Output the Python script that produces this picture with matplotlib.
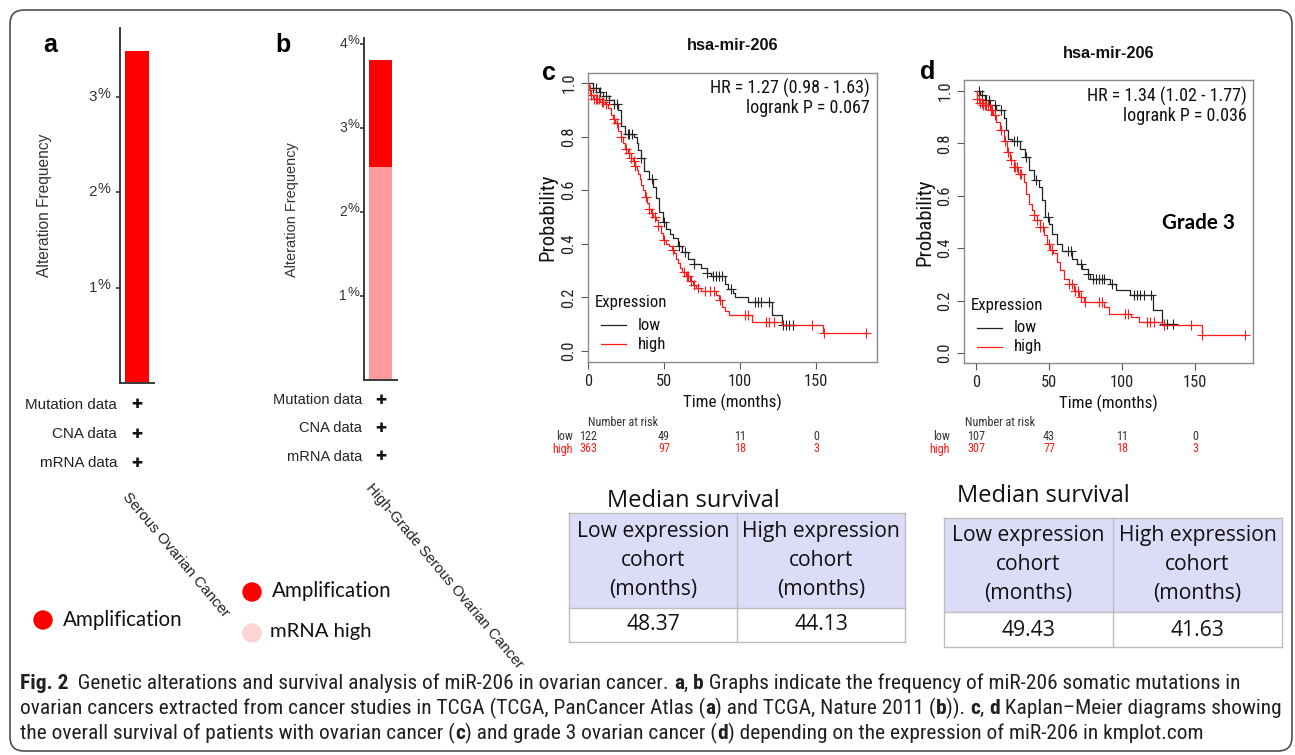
import numpy as np
import matplotlib
matplotlib.use('Agg')
import matplotlib.pyplot as plt
from matplotlib import font_manager
from matplotlib.font_manager import FontProperties
from matplotlib.patches import FancyBboxPatch, Rectangle, Circle
from matplotlib.lines import Line2D
from matplotlib.transforms import IdentityTransform, blended_transform_factory

# ---------------- data ----------------
cat_a = ['Serous Ovarian Cancer']
amp_a = [3.48]
cat_b = ['High-Grade Serous Ovarian Cancer']
mrna_b = [2.54]
amp_b = [1.27]
yticks_a = [1, 2, 3]
yticks_b = [1, 2, 3, 4]
profile_rows = ['Mutation data', 'CNA data', 'mRNA data']
legend_a = ['Amplification']
legend_b = ['Amplification', 'mRNA high']

km_title = 'hsa-mir-206'
km_xticks = [0, 50, 100, 150]
km_yticks = [0.0, 0.2, 0.4, 0.6, 0.8, 1.0]
km_legend = ['low', 'high']

c_low_t = [0, 3, 7, 10, 14, 17, 20, 22, 24, 30, 32, 33, 35, 37, 40, 43, 45, 47, 49, 51,
           54, 56, 59, 62, 66, 70, 74, 78, 81, 90, 92, 95, 96.5, 105, 121, 127.5, 137]
c_low_s = [1.0, 0.98, 0.965, 0.95, 0.935, 0.92, 0.90, 0.84, 0.81, 0.80, 0.775, 0.75, 0.72,
           0.67, 0.64, 0.61, 0.57, 0.52, 0.48, 0.455, 0.435, 0.42, 0.39, 0.37, 0.345, 0.325,
           0.31, 0.29, 0.278, 0.25, 0.232, 0.215, 0.203, 0.184, 0.134, 0.097, 0.097]
c_low_cens = [3, 5, 8, 12, 14, 17, 19, 26, 27, 29, 35, 42, 50, 60, 64, 70, 78, 82, 84, 86,
              88, 94, 110, 112, 114, 119, 128, 130, 132, 135]
c_high_t = [0, 0.5, 1.5, 3, 8, 11, 13, 15, 16.5, 18, 20, 21.5, 23, 24.5, 26, 28, 29.5, 31,
            32, 33, 34, 35, 36, 37.5, 38.5, 40, 41.5, 43, 44.5, 46, 48, 49.5, 51, 53, 55,
            56.5, 58, 59, 60.5, 62, 64.5, 67, 69, 71, 74, 84, 86, 88, 90, 93, 107.5, 127.3,
            154.5, 183]
c_high_s = [1.0, 0.975, 0.955, 0.94, 0.93, 0.92, 0.905, 0.88, 0.865, 0.85, 0.82, 0.8, 0.776,
            0.755, 0.738, 0.72, 0.707, 0.69, 0.676, 0.66, 0.64, 0.62, 0.60, 0.575, 0.552,
            0.53, 0.515, 0.5, 0.487, 0.465, 0.44, 0.415, 0.40, 0.39, 0.375, 0.365, 0.345,
            0.327, 0.31, 0.296, 0.278, 0.26, 0.247, 0.235, 0.222, 0.21, 0.19, 0.166, 0.15,
            0.134, 0.11, 0.097, 0.066, 0.066]
c_high_cens = [1, 2, 4, 5, 6, 7, 9, 10, 12, 17, 19, 22, 25, 27, 28, 30, 31, 38, 40, 42, 44,
               46, 50, 56, 63, 65, 66, 68, 70, 72, 77, 80, 83, 87, 103, 105, 117, 119, 122,
               147, 155, 183]

d_low_t = [0, 2.8, 6, 9.6, 14, 19, 20.6, 22, 24.5, 30, 33.7, 36, 39.4, 43, 45, 47.5, 49.8,
           52, 55.5, 59, 66, 69, 72.7, 77, 78.4, 92, 95.6, 105.5, 121, 127.7, 137]
d_low_s = [1.0, 0.983, 0.964, 0.945, 0.926, 0.898, 0.85, 0.818, 0.81, 0.78, 0.748, 0.697,
           0.659, 0.634, 0.583, 0.519, 0.494, 0.455, 0.417, 0.389, 0.36, 0.341, 0.322, 0.303,
           0.284, 0.262, 0.242, 0.22, 0.165, 0.109, 0.109]
d_low_cens = [2, 4, 7, 9, 13, 17, 26, 28, 34, 41, 49, 63, 65, 72, 77, 80, 82, 84, 86, 88,
              93, 108, 110, 112, 115, 120, 129, 131, 135]
d_high_t = [0, 1, 2.5, 5, 9.6, 12, 14, 16.5, 19, 21, 23.4, 25.7, 29, 32.6, 34.4, 36, 38.3,
            40, 41.7, 44, 46.8, 48.6, 51, 53, 55.5, 57.8, 60, 63.5, 67, 70.4, 73.9, 87.6, 91,
            106, 111.7, 127.7, 154.8, 184.4]
d_high_s = [1.0, 0.97, 0.955, 0.945, 0.926, 0.907, 0.88, 0.85, 0.81, 0.767, 0.735, 0.71,
            0.684, 0.653, 0.608, 0.57, 0.545, 0.525, 0.506, 0.481, 0.449, 0.417, 0.392,
            0.382, 0.347, 0.316, 0.284, 0.265, 0.237, 0.214, 0.195, 0.176, 0.15, 0.137,
            0.118, 0.106, 0.07, 0.07]
d_high_cens = [1, 2, 3, 4, 5, 6, 7, 8, 10, 11, 13, 17, 20, 22, 24, 26, 27, 28, 30, 31, 40,
               42, 44, 46, 50, 52, 64, 66, 68, 70, 72, 75, 84, 86, 102, 104, 117, 119, 122,
               129, 147, 155, 184]

risk_times = [0, 50, 100, 150]
c_risk_low = [122, 49, 11, 0]
c_risk_high = [363, 97, 18, 3]
d_risk_low = [107, 43, 11, 0]
d_risk_high = [307, 77, 18, 3]
c_stats = ['HR = 1.27 (0.98 - 1.63)', 'logrank P = 0.067']
d_stats = ['HR = 1.34 (1.02 - 1.77)', 'logrank P = 0.036']

table_title = 'Median survival'
table_cols = [['Low expression', 'cohort', '(months)'],
              ['High expression', 'cohort', '(months)']]
c_median = [48.37, 44.13]
d_median = [49.43, 41.63]

caption = [
    [('Fig. 2', 'bold'), ('  Genetic alterations and survival analysis of miR-206 in ovarian cancer. ', 'normal'),
     ('a', 'bold'), (', ', 'normal'), ('b', 'bold'),
     (' Graphs indicate the frequency of miR-206 somatic mutations in', 'normal')],
    [('ovarian cancers extracted from cancer studies in TCGA (TCGA, PanCancer Atlas (', 'normal'),
     ('a', 'bold'), (') and TCGA, Nature 2011 (', 'normal'), ('b', 'bold'), (')). ', 'normal'),
     ('c', 'bold'), (', ', 'normal'), ('d', 'bold'), (' Kaplan\u2013Meier diagrams showing', 'normal')],
    [('the overall survival of patients with ovarian cancer (', 'normal'), ('c', 'bold'),
     (') and grade 3 ovarian cancer (', 'normal'), ('d', 'bold'),
     (') depending on the expression of miR-206 in kmplot.com', 'normal')],
]

# ---------------- setup ----------------
W, H = 1295, 755
fig = plt.figure(figsize=(W / 100, H / 100), dpi=100)
fig.patch.set_facecolor('white')
R = fig.canvas.get_renderer()
PX = IdentityTransform()

avail = {f.name for f in font_manager.fontManager.ttflist}


def pick(*names):
    for n in names:
        if n in avail:
            return n
    return 'DejaVu Sans'


ARIAL = pick('Liberation Sans', 'Arimo', 'DejaVu Sans')
NARROW = pick('Liberation Sans Narrow', 'Roboto Condensed', 'Open Sans Condensed', 'Roboto')
OPEN = pick('Open Sans', 'Noto Sans')
LATO = pick('Lato', 'Open Sans')
DV = 'DejaVu Sans'
KMF = NARROW
plt.rcParams['font.family'] = [DV]


def tw(s, size, family, weight='normal'):
    fp = FontProperties(family=family, size=size, weight=weight)
    w1 = R.get_text_width_height_descent('|' + s + '|', fp, ismath=False)[0]
    w0 = R.get_text_width_height_descent('||', fp, ismath=False)[0]
    return w1 - w0


def fit(s, target, family, weight='normal'):
    return 10.0 * target / tw(s, 10.0, family, weight)


def T(x, y, s, **kw):
    return fig.text(x / W, 1 - y / H, s, **kw)


def AX(x0, y0, x1, y1):
    return fig.add_axes([x0 / W, 1 - y1 / H, (x1 - x0) / W, (y1 - y0) / H])


def hline(x0, x1, y, **kw):
    fig.add_artist(Line2D([x0, x1], [H - y, H - y], transform=PX, **kw))


def vline(x, y0, y1, **kw):
    fig.add_artist(Line2D([x, x], [H - y0, H - y1], transform=PX, **kw))


# outer rounded frame
fig.add_artist(FancyBboxPatch((10, H - 751), 1282, 741, boxstyle='round,pad=0,rounding_size=14',
                              transform=PX, fill=False, ec='#4d4d4d', lw=1.2))

# ---------------- bar panels a, b ----------------
RED = '#ff0000'
PINK = '#ff9b9b'
LPINK = '#ffd4d4'
SPC = '#3a3a3a'


def bar_panel(box, bar_px, ymax, yticks, stacks, colors, fs, dig_off):
    ax = AX(*box)
    x = np.arange(1)
    bottom = np.zeros(1)
    for vals, col in zip(stacks, colors):
        ax.bar(x, vals, bottom=bottom, width=1.0, color=col, edgecolor='none')
        bottom = bottom + np.array(vals)
    pad = (box[2] - box[0] - bar_px) / 2 / bar_px
    ax.set_xlim(-0.5 - pad, 0.5 + pad)
    ax.set_ylim(0, ymax)
    for s in ['top', 'right']:
        ax.spines[s].set_visible(False)
    for s in ['left', 'bottom']:
        ax.spines[s].set_color(SPC)
        ax.spines[s].set_linewidth(1.4)
    ax.set_xticks([])
    ax.set_yticks(yticks)
    ax.set_yticklabels([])
    ax.tick_params(axis='y', length=3, width=1.2, color=SPC, direction='out')
    ax.patch.set_alpha(0)
    for v in yticks:
        ax.annotate(str(v), xy=(0, v), xycoords=('axes fraction', 'data'), xytext=(dig_off, 0),
                    textcoords='offset pixels', ha='right', va='center', fontsize=fs,
                    family=ARIAL, color='#333333')
        ax.annotate('%', xy=(0, v), xycoords=('axes fraction', 'data'), xytext=(dig_off, 3),
                    textcoords='offset pixels', ha='left', va='center', fontsize=fs * 0.95,
                    family=ARIAL, color='#333333')
    return ax


axa = bar_panel((120, 27.7, 154, 383.3), 24, 3.72, yticks_a, [amp_a], [RED], 11, -23)
axb = bar_panel((364, 38, 397, 380), 23, 4.07, yticks_b, [mrna_b, amp_b], [PINK, RED], 10, -17)

T(45, 205, 'Alteration Frequency', rotation=90, ha='center', va='center', family=ARIAL,
  fontsize=fit('Alteration Frequency', 144, ARIAL), color='#333333')
T(292, 210, 'Alteration Frequency', rotation=90, ha='center', va='center', family=ARIAL,
  fontsize=fit('Alteration Frequency', 135, ARIAL), color='#333333')

T(50, 45, 'a', ha='center', va='center', family=ARIAL, fontweight='bold', fontsize=18)
T(283, 45, 'b', ha='center', va='center', family=ARIAL, fontweight='bold', fontsize=18)

fs_rows_a = fit('Mutation data', 92, ARIAL)
fs_rows_b = fit('Mutation data', 89, ARIAL)
for lab, ya, yb in zip(profile_rows, [405, 434, 463], [400, 428, 457]):
    T(117, ya, lab, ha='right', va='center', family=ARIAL, fontsize=fs_rows_a, color='#222222')
    T(137, ya, '\u271a', ha='center', va='center', family=DV, fontsize=9.5, color='#111111')
    T(362, yb, lab, ha='right', va='center', family=ARIAL, fontsize=fs_rows_b, color='#222222')
    T(381, yb, '\u271a', ha='center', va='center', family=DV, fontsize=9.5, color='#111111')

T(130, 490, cat_a[0], rotation=-50, rotation_mode='anchor', ha='left', va='top', family=ARIAL,
  fontsize=fit(cat_a[0], 159, ARIAL), color='#222222')
T(374, 481, cat_b[0], rotation=-50, rotation_mode='anchor', ha='left', va='top', family=ARIAL,
  fontsize=fit(cat_b[0], 238, ARIAL), color='#222222')

fs_leg = fit('Amplification', 120, LATO)
fig.add_artist(Circle((43, H - 620), 9, transform=PX, color=RED))
T(63, 620, legend_a[0], ha='left', va='center', family=LATO, fontsize=fs_leg, color='#111111')
fig.add_artist(Circle((252, H - 592), 9, transform=PX, color=RED))
T(272, 591, legend_b[0], ha='left', va='center', family=LATO, fontsize=fs_leg, color='#111111')
fig.add_artist(Circle((252, H - 633), 9, transform=PX, color=LPINK))
T(270, 632, legend_b[1], ha='left', va='center', family=LATO,
  fontsize=fit('mRNA high', 101, LATO), color='#111111')

# ---------------- KM panels c, d ----------------
KRED = '#ff1a1a'
KBLK = '#222222'
fs_tick = fit('150', 24, KMF)
fs_hr = fit(c_stats[0], 159, KMF)
fs_lab = fit('Time (months)', 98, KMF)
fs_ylab = fit('Probability', 87, KMF)
fs_leg_km = fit('Expression', 72, KMF)
fs_risk = fit('Number at risk', 70, KMF)
fs_title = fit(km_title, 92, ARIAL, 'bold')


def step_y(t, s, c):
    t = np.asarray(t, float)
    s = np.asarray(s, float)
    idx = np.searchsorted(t, np.asarray(c, float), side='right') - 1
    return s[np.clip(idx, 0, len(s) - 1)]


def km_panel(box, xlim, ylim, low, high, stats, st_xy, title_xy, letter, letter_xy,
             ylab_xy, xlab_xy, leg_xy, risk_xy, risk_low, risk_high):
    ax = AX(*box)
    for (t, s, c), col in zip([low, high], [KBLK, KRED]):
        ax.step(t, s, where='post', color=col, lw=0.9)
        ax.plot(c, step_y(t, s, c), '+', color=col, ms=7, mew=0.8, ls='none')
    ax.set_xlim(*xlim)
    ax.set_ylim(*ylim)
    for sp in ax.spines.values():
        sp.set_color('#8a8a8a')
        sp.set_linewidth(1.0)
    ax.set_xticks(km_xticks)
    ax.set_xticklabels([str(v) for v in km_xticks])
    ax.set_yticks(km_yticks)
    ax.set_yticklabels(['%.1f' % v for v in km_yticks])
    ax.tick_params(direction='out', length=5, width=0.8, color='#555555', labelsize=fs_tick,
                   labelcolor='#222222', pad=3.5)
    ax.tick_params(axis='y', labelrotation=90)
    for lab in ax.get_yticklabels():
        lab.set_va('center')
        lab.set_family(KMF)
    for lab in ax.get_xticklabels():
        lab.set_family(KMF)

    T(st_xy[0], st_xy[1], stats[0], ha='right', va='center', family=KMF, fontsize=fs_hr,
      color='#111111')
    T(st_xy[0], st_xy[1] + 20, stats[1], ha='right', va='center', family=KMF, fontsize=fs_hr,
      color='#111111')
    T(title_xy[0], title_xy[1], km_title, ha='center', va='center', family=ARIAL,
      fontsize=fs_title, fontweight='bold', color='#111111')
    T(letter_xy[0], letter_xy[1], letter, ha='center', va='center', family=ARIAL,
      fontweight='bold', fontsize=18, color='black')
    T(ylab_xy[0], ylab_xy[1], 'Probability', rotation=90, ha='center', va='center',
      family=KMF, fontsize=fs_ylab, color='#111111')
    T(xlab_xy[0], xlab_xy[1], 'Time (months)', ha='center', va='center', family=KMF,
      fontsize=fs_lab, color='#111111')

    lx, ly = leg_xy
    T(lx, ly, 'Expression', ha='left', va='center', family=KMF, fontsize=fs_leg_km,
      color='#111111')
    for i, (name, col) in enumerate(zip(km_legend, [KBLK, KRED])):
        yy = ly + 23 + i * 19
        hline(lx + 6, lx + 31, yy, color=col, lw=0.9)
        T(lx + 43, yy, name, ha='left', va='center', family=KMF, fontsize=fs_leg_km,
          color='#111111')

    rx, ry = risk_xy
    T(rx, ry, 'Number at risk', ha='left', va='center', family=KMF, fontsize=fs_risk,
      color='#333333')
    T(rx - 15, ry + 13, 'low', ha='right', va='center', family=KMF, fontsize=fs_risk,
      color='#333333')
    T(rx - 15, ry + 26, 'high', ha='right', va='center', family=KMF, fontsize=fs_risk,
      color=KRED)
    btf = blended_transform_factory(ax.transData, fig.transFigure)
    for tt, nl, nh in zip(risk_times, risk_low, risk_high):
        fig.text(tt, 1 - (ry + 13) / H, str(nl), transform=btf, ha='center', va='center',
                 family=KMF, fontsize=fs_risk, color='#333333')
        fig.text(tt, 1 - (ry + 26) / H, str(nh), transform=btf, ha='center', va='center',
                 family=KMF, fontsize=fs_risk, color=KRED)
    return ax


km_panel((588, 73, 877, 362), (0, 190), (-0.041, 1.037),
         (c_low_t, c_low_s, c_low_cens), (c_high_t, c_high_s, c_high_cens), c_stats,
         (870, 88), (733, 46), 'c', (549, 73), (548, 217), (732, 402), (595, 302),
         (588, 423), c_risk_low, c_risk_high)
km_panel((964, 80, 1253, 363), (-8.2, 189.7), (-0.038, 1.042),
         (d_low_t, d_low_s, d_low_cens), (d_high_t, d_high_s, d_high_cens), d_stats,
         (1247, 96), (1109, 53), 'd', (928, 72), (925, 222), (1108, 403), (971, 305),
         (965, 423), d_risk_low, d_risk_high)
T(1199, 223, 'Grade 3', ha='center', va='center', family=LATO, fontweight='bold',
  fontsize=fit('Grade 3', 73, LATO, 'bold'), color='black')

# ---------------- median survival tables ----------------
LAV = '#dcdcf8'
GRID = '#bdbdbd'
fs_hdr = fit('Low expression', 153, OPEN)
fs_val = fit('48.37', 54, OPEN)
fs_tt = fit(table_title, 173, OPEN)


def med_table(x0, xm, x1, ytop, ymid, ybot, title_xy, hdr_ys, val_y, vals):
    fig.add_artist(Rectangle((x0, H - ymid), x1 - x0, ymid - ytop, transform=PX, fc=LAV, ec='none'))
    for y in [ytop, ymid, ybot]:
        hline(x0, x1, y, color=GRID, lw=1)
    for x in [x0, xm, x1]:
        vline(x, ytop, ybot, color=GRID, lw=1)
    T(title_xy[0], title_xy[1], table_title, ha='left', va='center', family=OPEN,
      fontsize=fs_tt, color='#111111')
    for cx, lines, v in zip([(x0 + xm) / 2, (xm + x1) / 2], table_cols, vals):
        for ln, yy in zip(lines, hdr_ys):
            T(cx, yy, ln, ha='center', va='center', family=OPEN, fontsize=fs_hdr, color='#111111')
        T(cx, val_y, '%.2f' % v, ha='center', va='center', family=OPEN, fontsize=fs_val,
          color='#111111')


med_table(569, 737, 905, 513, 608, 642, (607, 501), [531, 560, 589], 625, c_median)
med_table(944, 1113, 1282, 518, 612, 647, (957, 496), [536, 565, 594], 630, d_median)

# ---------------- caption ----------------
CAPF = NARROW
base = sum(tw(s, 10, CAPF, w) for s, w in caption[0])
fs_cap = 10 * 1213 / base
for runs, yc in zip(caption, [682, 707, 732]):
    x = 20
    yb = yc + 0.33 * fs_cap * 100 / 72
    for s, w in runs:
        T(x, yb, s, ha='left', va='baseline', family=CAPF, fontweight=w, fontsize=fs_cap,
          color='#231f20')
        x += tw(s, fs_cap, CAPF, w)

fig.savefig('out.png', dpi=100, facecolor='white')
